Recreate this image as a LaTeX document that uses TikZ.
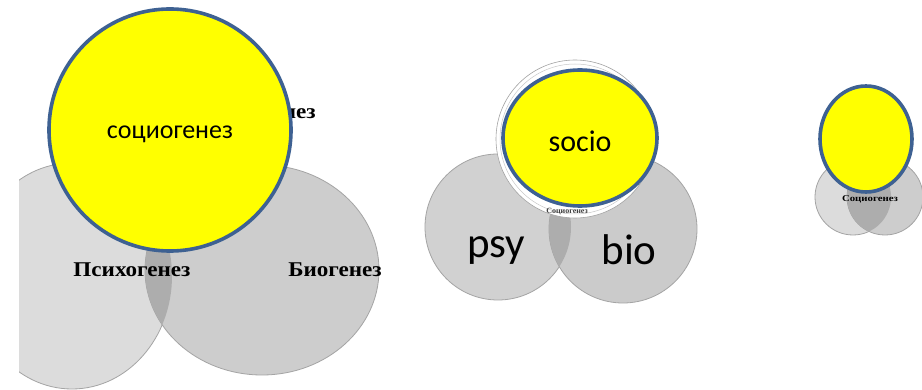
\documentclass[tikz,border=0pt]{standalone}
\usepackage{fontspec}
\setmainfont{Carlito}
\newfontfamily\serifb{Liberation Serif}
\definecolor{ylw}{HTML}{FFFF00}
\definecolor{rim}{HTML}{3E6192}
\definecolor{gA}{HTML}{DCDCDC}
\definecolor{gB}{HTML}{CDCDCD}
\definecolor{gL}{HTML}{ADADAD}
\definecolor{gE}{HTML}{A4A4A4}
\tikzset{
  sunball/.style={fill=ylw, draw=rim, line width=3.6pt},
  greyA/.style={fill=gA, draw=gE, line width=0.8pt},
  greyB/.style={fill=gB, draw=gE, line width=0.8pt},
  lensfill/.style={fill=gL},
  oldlabel/.style={font=\serifb\bfseries\fontsize{21}{22}\selectfont, inner sep=0pt, xscale=1.1, transform shape},
  tinylabel/.style={font=\serifb\bfseries\fontsize{9}{10}\selectfont, inner sep=0pt},
  sanslabel/.style={inner sep=0pt}
}
\begin{document}
\begin{tikzpicture}[x=1pt,y=-1pt]
\useasboundingbox[fill=white] (0,0) rectangle (922,390);
% ---------- panel 1 ----------
\begin{scope}
  \clip (19,0) rectangle (922,390);
  \path[greyA] (72,276) ellipse (100 and 113);
\end{scope}
\path[greyB] (262,270) ellipse (117 and 105);
\begin{scope}
  \clip (72,276) ellipse (100 and 113);
  \path[lensfill] (262,270) ellipse (117 and 105);
\end{scope}
\node[oldlabel] (psyru) at (132,270) {Психогенез};
\node[oldlabel] (bioru) at (335,270) {Биогенез};
\node[oldlabel, anchor=east] (socru) at (316,113) {Социогенез};
\path[sunball] (170,130) circle (121);
\node[sanslabel, font=\fontsize{26}{30}\selectfont] (soc1) at (170,134) {социогенез};
% ---------- panel 2 ----------
\path[greyA, fill=gA!95!black] (498,227) circle (73);
\path[greyB, fill=gB!105!white] (623,229) circle (74);
\begin{scope}
  \clip (498,227) circle (73);
  \path[lensfill] (623,229) circle (74);
\end{scope}
\path[fill=white, draw=gE, line width=0.6pt] (575,139) circle (79);
\draw[gE!60, line width=0.5pt] (575,139) circle (75);
\node[tinylabel, font=\serifb\bfseries\fontsize{8}{9}\selectfont, text=black!75] (soc2small) at (567,212) {Социогенез};
\path[sunball] (580,138) ellipse (77 and 68);
\node[sanslabel, font=\fontsize{30}{34}\selectfont] (soc2) at (580,141) {socio};
\node[sanslabel, font=\fontsize{43}{48}\selectfont] (psy) at (496,251) {psy};
\node[sanslabel, font=\fontsize{43}{48}\selectfont] (bio) at (629,250) {bio};
% ---------- panel 3 ----------
\path[greyA] (853,197) circle (38);
\path[greyB] (885,197) circle (38);
\begin{scope}
  \clip (853,197) circle (38);
  \path[lensfill] (885,197) circle (38);
\end{scope}
\node[tinylabel, xscale=1.2, transform shape] (soc3small) at (870,199) {Социогенез};
\path[sunball] (866,139) ellipse (46 and 53);
\end{tikzpicture}
\end{document}
